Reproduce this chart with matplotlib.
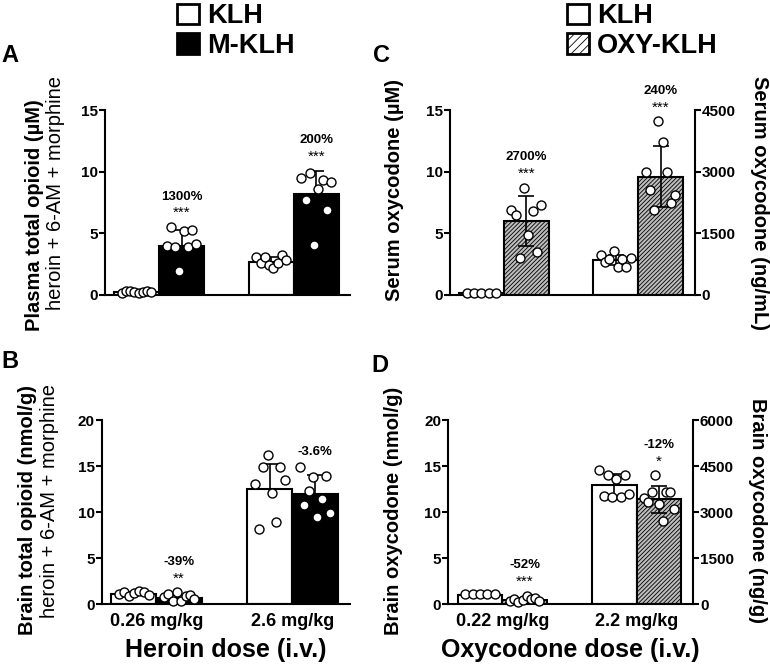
import matplotlib
matplotlib.use("Agg")
import matplotlib.pyplot as plt
from matplotlib.patches import Patch
import numpy as np

plt.rcParams['font.family'] = ['Liberation Sans', 'DejaVu Sans']
plt.rcParams['hatch.linewidth'] = 0.6

# --- data ---
heroin_doses = ['0.26 mg/kg', '2.6 mg/kg']
oxy_doses = ['0.22 mg/kg', '2.2 mg/kg']

# A: plasma total opioid (uM), KLH vs M-KLH
plasma_klh_mean = [0.22, 2.7]
plasma_klh_sd = [0.1, 0.35]
plasma_mklh_mean = [4.0, 8.2]
plasma_mklh_sd = [1.3, 1.9]
plasma_klh_pts = [[0.15, 0.3, 0.35, 0.2, 0.15, 0.2, 0.35, 0.25],
                  [3.1, 2.6, 3.1, 2.4, 2.2, 2.6, 3.2, 2.8]]
plasma_mklh_pts = [[4.0, 5.5, 3.9, 1.9, 5.2, 3.9, 5.3, 4.1],
                   [9.5, 7.7, 9.9, 4.05, 8.6, 9.3, 6.9, 9.2]]
plasma_pct = ['1300%', '200%']
plasma_sig = ['***', '***']

# B: brain total opioid (nmol/g)
brain_h_klh_mean = [1.1, 12.5]
brain_h_klh_sd = [0.2, 2.7]
brain_h_mklh_mean = [0.7, 12.0]
brain_h_mklh_sd = [0.35, 2.0]
brain_h_klh_pts = [[1.1, 1.3, 0.9, 1.2, 1.4, 1.3, 1.0],
                   [13.1, 8.2, 14.9, 16.2, 12.1, 8.9, 14.9, 13.5]]
brain_h_mklh_pts = [[0.8, 1.1, 0.4, 1.3, 0.3, 0.9, 1.0, 0.6],
                    [14.9, 10.8, 12.3, 13.8, 9.5, 11.4, 13.9, 9.9]]
brain_h_pct = ['-39%', '-3.6%']
brain_h_sig = ['**', '']

# C: serum oxycodone (uM), KLH vs OXY-KLH
serum_klh_mean = [0.12, 2.8]
serum_klh_sd = [0.05, 0.4]
serum_oxy_mean = [6.0, 9.6]
serum_oxy_sd = [2.0, 2.5]
serum_klh_pts = [[0.15, 0.15, 0.15, 0.15, 0.15],
                 [3.2, 2.7, 2.9, 3.6, 2.3, 2.9, 2.3, 3.0]]
serum_oxy_pts = [[6.9, 6.5, 3.0, 8.7, 4.9, 6.8, 3.5, 7.3],
                 [10.0, 8.5, 6.9, 14.1, 12.4, 10.0, 7.5, 8.1]]
serum_pct = ['2700%', '240%']
serum_sig = ['***', '***']

# D: brain oxycodone (nmol/g)
brain_o_klh_mean = [1.0, 13.0]
brain_o_klh_sd = [0.1, 1.2]
brain_o_oxy_mean = [0.45, 11.4]
brain_o_oxy_sd = [0.25, 1.5]
brain_o_klh_pts = [[1.1, 1.1, 1.1, 1.1, 1.1],
                   [14.6, 11.8, 14.0, 11.7, 13.6, 11.7, 14.0, 12.0]]
brain_o_oxy_pts = [[0.4, 0.6, 0.2, 0.5, 0.9, 0.6, 0.7, 0.3],
                   [11.5, 11.1, 12.2, 14.0, 10.9, 9.1, 12.2, 12.2, 10.4]]
brain_o_pct = ['-52%', '-12%']
brain_o_sig = ['***', '*']

HATCH = '////////'
GRAY = '#bdbdbd'


def draw_panel(ax, klh_m, klh_sd, vac_m, vac_sd, klh_pts, vac_pts,
               pct, sig, vac_face, vac_hatch, ymax, ystep, both_err):
    x = np.array([0, 3])
    for i in range(2):
        for xc, m, sd, pts, face, hatch in [
                (x[i], klh_m[i], klh_sd[i], klh_pts[i], 'white', None),
                (x[i] + 1, vac_m[i], vac_sd[i], vac_pts[i], vac_face, vac_hatch)]:
            ax.bar(xc, m, width=1, color=face, edgecolor='black', linewidth=1.5,
                   hatch=hatch, zorder=2)
            low = sd if both_err else 0
            ax.errorbar(xc, m, yerr=[[low], [sd]], fmt='none', ecolor='black',
                        elinewidth=1.2, capsize=5.5, capthick=1.2, zorder=3)
            off = np.linspace(-0.33, 0.33, len(pts))
            ax.scatter(xc + off, pts, s=42, facecolor='white', edgecolor='black',
                       linewidth=1.0, zorder=4, clip_on=False)
        top = max(vac_m[i] + vac_sd[i], max(vac_pts[i]))
        if sig[i]:
            ax.annotate(sig[i], (x[i] + 1, top), xytext=(0, 10),
                        textcoords='offset points', ha='center', va='center',
                        fontsize=11, annotation_clip=False)
            dy = 22
        else:
            dy = 11
        ax.annotate(pct[i], (x[i] + 1, top), xytext=(0, dy),
                    textcoords='offset points', ha='center', va='center',
                    fontsize=9.5, fontweight='bold', annotation_clip=False)
    ax.set_xlim(-0.71, 4.76)
    ax.set_ylim(0, ymax)
    ax.set_yticks(np.arange(0, ymax + 1, ystep))
    ax.set_xticks([])
    for s in ['top', 'right']:
        ax.spines[s].set_visible(False)
    ax.spines['left'].set_linewidth(1.5)
    ax.spines['bottom'].set_linewidth(1.5)
    ax.tick_params(axis='y', width=1.5, length=4, labelsize=11, pad=1)
    for t in ax.get_yticklabels():
        t.set_fontweight('bold')


def right_axis(ax, ymax, ystep):
    ax2 = ax.twinx()
    ax2.set_ylim(0, ymax)
    ax2.set_yticks(np.arange(0, ymax + 1, ystep))
    for s in ['top', 'left', 'bottom']:
        ax2.spines[s].set_visible(False)
    ax2.spines['right'].set_linewidth(1.5)
    ax2.tick_params(axis='y', width=1.5, length=4, labelsize=11, pad=1)
    for t in ax2.get_yticklabels():
        t.set_fontweight('bold')
    return ax2


fig = plt.figure(figsize=(7.7, 6.64), dpi=100)

axA = fig.add_axes([0.136, 0.556, 0.319, 0.278])
axC = fig.add_axes([0.584, 0.556, 0.318, 0.278])
axB = fig.add_axes([0.132, 0.090, 0.322, 0.277])
axD = fig.add_axes([0.582, 0.090, 0.318, 0.277])

draw_panel(axA, plasma_klh_mean, plasma_klh_sd, plasma_mklh_mean, plasma_mklh_sd,
           plasma_klh_pts, plasma_mklh_pts, plasma_pct, plasma_sig,
           'black', None, 15, 5, False)
draw_panel(axB, brain_h_klh_mean, brain_h_klh_sd, brain_h_mklh_mean, brain_h_mklh_sd,
           brain_h_klh_pts, brain_h_mklh_pts, brain_h_pct, brain_h_sig,
           'black', None, 20, 5, False)
draw_panel(axC, serum_klh_mean, serum_klh_sd, serum_oxy_mean, serum_oxy_sd,
           serum_klh_pts, serum_oxy_pts, serum_pct, serum_sig,
           GRAY, HATCH, 15, 5, True)
draw_panel(axD, brain_o_klh_mean, brain_o_klh_sd, brain_o_oxy_mean, brain_o_oxy_sd,
           brain_o_klh_pts, brain_o_oxy_pts, brain_o_pct, brain_o_sig,
           GRAY, HATCH, 20, 5, True)

right_axis(axC, 4500, 1500)
right_axis(axD, 6000, 1500)

# x tick labels + axis titles on bottom panels
for ax, doses, title in [(axB, heroin_doses, 'Heroin dose (i.v.)'),
                         (axD, oxy_doses, 'Oxycodone dose (i.v.)')]:
    ax.set_xticks([0.5, 3.5])
    ax.set_xticklabels(doses, fontsize=13, fontweight='bold')
    ax.tick_params(axis='x', length=0, pad=6)
    ax.set_xlabel(title, fontsize=18, fontweight='bold', labelpad=6)

# y labels
lab = dict(rotation=90, ha='center', va='center', fontsize=14.5)
axA.text(-0.285, 0.43, 'Plasma total opioid (µM)', transform=axA.transAxes,
         fontweight='bold', **lab)
axA.text(-0.20, 0.55, 'heroin + 6-AM + morphine', transform=axA.transAxes, **lab)
axB.text(-0.30, 0.51, 'Brain total opioid (nmol/g)', transform=axB.transAxes,
         fontweight='bold', **lab)
axB.text(-0.21, 0.56, 'heroin + 6-AM + morphine', transform=axB.transAxes, **lab)
axC.text(-0.225, 0.57, 'Serum oxycodone (µM)', transform=axC.transAxes,
         fontweight='bold', **lab)
axD.text(-0.225, 0.51, 'Brain oxycodone (nmol/g)', transform=axD.transAxes,
         fontweight='bold', **lab)
lab['rotation'] = -90
axC.text(1.265, 0.50, 'Serum oxycodone (ng/mL)', transform=axC.transAxes,
         fontweight='bold', **lab)
axD.text(1.265, 0.51, 'Brain oxycodone (ng/g)', transform=axD.transAxes,
         fontweight='bold', **lab)

# panel letters
for lbl, (x, y) in {'A': (0.002, 0.916), 'C': (0.485, 0.916),
                    'B': (0.002, 0.456), 'D': (0.482, 0.449)}.items():
    fig.text(x, y, lbl, fontsize=17, fontweight='bold', ha='left', va='center')

# legends
leg_kw = dict(frameon=False, loc='upper left', handlelength=0.8, handleheight=0.8,
              handletextpad=0.3, labelspacing=0.12, borderpad=0, borderaxespad=0,
              prop={'size': 19.5, 'weight': 'bold'})
fig.legend(handles=[Patch(facecolor='white', edgecolor='black', linewidth=2, label='KLH'),
                    Patch(facecolor='black', edgecolor='black', linewidth=2, label='M-KLH')],
           bbox_to_anchor=(0.23, 0.995), **leg_kw)
fig.legend(handles=[Patch(facecolor='white', edgecolor='black', linewidth=2, label='KLH'),
                    Patch(facecolor='white', edgecolor='black', linewidth=2,
                          hatch='////', label='OXY-KLH')],
           bbox_to_anchor=(0.737, 0.995), **leg_kw)

fig.savefig('out.png', dpi=100)
